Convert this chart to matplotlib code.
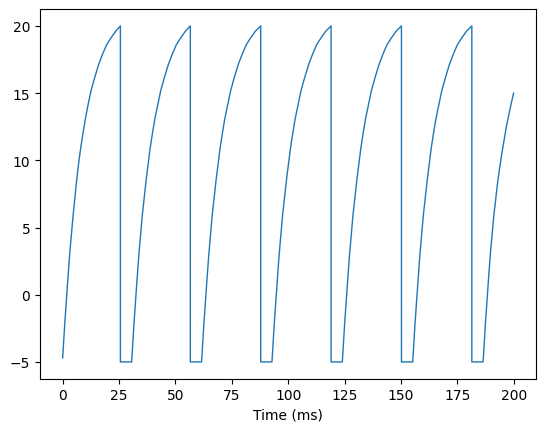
import matplotlib
matplotlib.use("Agg")
import matplotlib.pyplot as plt

# membrane trace (ms, value)
time_ms = [
    0.0, 1.0, 1.7, 2.5, 3.2, 4.0, 4.7, 5.4, 6.2, 7.1, 8.0, 9.0, 10.0, 11.1,
    12.6, 14.1, 15.9, 17.7, 19.5, 21.4, 23.5, 25.6,
    25.6, 30.6,
    31.6, 32.3, 33.1, 33.8, 34.6, 35.3, 36.1, 37.0, 37.9, 38.8, 39.8, 40.9,
    42.0, 43.5, 45.0, 46.8, 48.6, 50.4, 52.3, 54.4, 56.6,
    56.6, 61.6,
    62.6, 63.3, 64.1, 64.8, 65.6, 66.3, 67.1, 68.0, 68.9, 69.8, 70.8, 71.9,
    73.0, 74.5, 76.0, 77.8, 79.6, 81.4, 83.3, 85.4, 87.8,
    87.8, 92.8,
    93.8, 94.5, 95.3, 96.0, 96.8, 97.5, 98.3, 99.2, 100.1, 101.0, 102.0, 103.1,
    104.2, 105.7, 107.2, 109.0, 110.8, 112.6, 114.5, 116.6, 119.0,
    119.0, 124.0,
    125.0, 125.7, 126.5, 127.2, 128.0, 128.7, 129.5, 130.4, 131.3, 132.2, 133.2, 134.3,
    135.4, 136.9, 138.4, 140.2, 142.0, 143.8, 145.7, 147.8, 150.2,
    150.2, 155.2,
    156.2, 156.9, 157.7, 158.4, 159.2, 159.9, 160.7, 161.6, 162.5, 163.4, 164.4, 165.5,
    166.6, 168.1, 169.6, 171.4, 173.2, 175.0, 176.9, 179.0, 181.4,
    181.4, 186.4,
    187.4, 188.1, 188.9, 189.6, 190.4, 191.1, 191.9, 192.8, 193.7, 194.6, 195.6, 196.7,
    197.8, 199.9,
]
voltage = [
    -4.7, -2.0, -0.3, 1.6, 3.2, 4.7, 6.0, 7.2, 8.5, 9.8, 10.9, 12.0, 13.0, 14.0,
    15.2, 16.1, 17.1, 17.9, 18.6, 19.1, 19.6, 20.0,
    -5.0, -5.0,
    -2.2, -0.5, 1.4, 3.0, 4.5, 5.9, 7.1, 8.5, 9.7, 10.9, 12.0, 13.1,
    14.0, 15.2, 16.1, 17.1, 17.9, 18.6, 19.1, 19.6, 20.0,
    -5.0, -5.0,
    -2.2, -0.5, 1.4, 3.0, 4.5, 5.9, 7.1, 8.5, 9.7, 10.9, 12.0, 13.1,
    14.0, 15.2, 16.1, 17.1, 17.9, 18.6, 19.1, 19.6, 20.0,
    -5.0, -5.0,
    -2.2, -0.5, 1.4, 3.0, 4.5, 5.9, 7.1, 8.5, 9.7, 10.9, 12.0, 13.1,
    14.0, 15.2, 16.1, 17.1, 17.9, 18.6, 19.1, 19.6, 20.0,
    -5.0, -5.0,
    -2.2, -0.5, 1.4, 3.0, 4.5, 5.9, 7.1, 8.5, 9.7, 10.9, 12.0, 13.1,
    14.0, 15.2, 16.1, 17.1, 17.9, 18.6, 19.1, 19.6, 20.0,
    -5.0, -5.0,
    -2.2, -0.5, 1.4, 3.0, 4.5, 5.9, 7.1, 8.5, 9.7, 10.9, 12.0, 13.1,
    14.0, 15.2, 16.1, 17.1, 17.9, 18.6, 19.1, 19.6, 20.0,
    -5.0, -5.0,
    -2.2, -0.5, 1.4, 3.0, 4.5, 5.8, 7.0, 8.3, 9.4, 10.4, 11.4, 12.5,
    13.4, 15.0,
]

fig, ax = plt.subplots(figsize=(6.4, 4.8), dpi=100)
ax.plot(time_ms, voltage, color="#1f77b4", lw=1)
ax.set_xlabel("Time (ms)")
fig.savefig("out.png", bbox_inches="tight")
